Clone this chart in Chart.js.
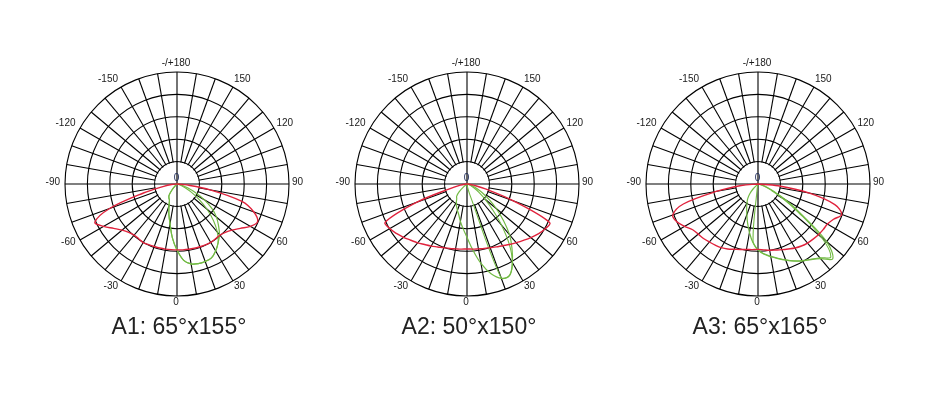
<!DOCTYPE html>
<html>
<head>
<meta charset="utf-8">
<script src="https://cdn.jsdelivr.net/npm/chart.js@4.4.1/dist/chart.umd.min.js"></script>
<style>
  html, body { margin:0; padding:0; background:#fff; }
  body { width:950px; height:406px; position:relative; overflow:hidden; font-family:"Liberation Sans", Arial, sans-serif; }
  .plot { position:absolute; top:54px; width:290px; height:260px; }
  .plot canvas { display:block; }
  .title { position:absolute; top:315px; width:290px; text-align:center; font-size:23px; line-height:23px; color:#222; }
</style>
</head>
<body>
<div class="plot" style="left:32px"><canvas id="c1" width="290" height="260"></canvas></div>
<div class="plot" style="left:322px"><canvas id="c2" width="290" height="260"></canvas></div>
<div class="plot" style="left:613px"><canvas id="c3" width="290" height="260"></canvas></div>
<div class="title" style="left:34px" id="t1"></div>
<div class="title" style="left:324px" id="t2"></div>
<div class="title" style="left:615px" id="t3"></div>

<script>
// gamma angle of each measured value, degrees (0 = straight down, +90 = right)
const gamma = [-90,-85,-80,-75,-70,-65,-60,-55,-50,-45,-40,-35,-30,-25,-20,-15,-10,-5,
               0,5,10,15,20,25,30,35,40,45,50,55,60,65,70,75,80,85,90];

// dial labels, every 30 deg clockwise from the top
const dialLabels = ['-/+180','150','120','90','60','30','0','-30','-60','-90','-120','-150'];

const titles = ['A1: 65°x155°', 'A2: 50°x150°', 'A3: 65°x165°'];

// intensities in ring units (5 rings), red = C0-C180, green = C90-C270 (two traces)
const a1Red    = [0,0.25,0.6,1.55,3.2,4.05,3.78,3.45,3.2,3.05,2.98,2.98,3.02,2.99,2.97,2.96,2.95,2.94,
                  2.94,2.95,2.96,2.97,2.98,3.0,3.01,2.99,2.98,3.05,3.2,3.45,3.78,3.97,3.65,3.0,1.5,0.35,0];
const a1Green  = [0,0,0,0,0,0,0,0,0,0.1,0.35,0.62,0.72,0.8,1.05,1.4,1.8,2.4,
                  2.95,3.42,3.62,3.68,3.68,3.64,3.45,3.2,2.95,2.62,2.3,1.9,1.4,0.9,0.5,0.25,0.1,0,0];
const a1Green2 = [0,0,0,0,0,0,0,0,0,0.1,0.35,0.62,0.72,0.8,1.05,1.4,1.8,2.4,
                  2.95,3.42,3.62,3.68,3.68,3.64,3.45,3.2,2.8,2.3,1.75,1.2,0.75,0.4,0.2,0.08,0,0,0];

const a2Red    = [0,0.1,0.3,0.75,2.4,4.03,3.98,3.85,3.7,3.55,3.43,3.3,3.2,3.1,3.03,2.98,2.94,2.92,
                  2.9,2.92,2.94,2.98,3.03,3.1,3.18,3.3,3.42,3.56,3.72,3.88,4.02,4.07,2.2,0.85,0.3,0.1,0];
const a2Green  = [0,0,0,0,0,0,0,0,0.2,0.5,0.72,0.8,0.95,1.1,1.25,1.42,1.7,2.0,
                  2.38,2.95,3.6,4.15,4.48,4.5,4.05,3.5,2.95,2.3,1.7,1.2,0.8,0.5,0.3,0.15,0.05,0,0];
const a2Green2 = [0,0,0,0,0,0,0,0,0,0,0,0,0,0,0,0,0,0,
                  0,0,0.15,0.5,4.45,4.5,4.05,3.3,2.4,1.6,1.05,0.65,0.4,0.2,0.1,0.04,0,0,0];

const a3Red    = [0,0.75,1.85,3.45,4.05,4.0,3.78,3.56,3.48,3.44,3.38,3.33,3.28,3.2,3.1,3.03,2.97,2.94,
                  2.92,2.95,3.0,3.05,3.12,3.2,3.3,3.38,3.44,3.48,3.52,3.55,3.58,3.72,3.98,3.55,2.3,0.9,0];
const a3Green  = [0,0,0,0,0,0,0,0,0,0.3,0.57,0.8,0.98,1.2,1.45,1.8,2.2,2.62,
                  2.95,3.15,3.3,3.45,3.62,3.8,3.97,4.12,4.35,4.72,4.0,2.4,1.45,0.75,0.4,0.18,0.06,0,0];
const a3Green2 = [0,0,0,0,0,0,0,0,0,0,0,0,0,0,0,0,0.2,2.55,
                  2.93,3.13,3.28,3.43,3.6,3.78,3.95,4.1,4.3,4.6,3.7,2.2,1.25,0.62,0.3,0.1,0,0,0];

const RED = '#e0223c';
const GREEN = '#72ba44';
const GRID = '#000';

// radar needs one slot per 5 deg round the dial, starting at the top going clockwise
const dialAngles = [];
for (let i = 0; i < 72; i++) dialAngles.push(180 - 5 * i);

function toDial(series){
  return dialAngles.map(a => {
    const k = gamma.indexOf(a);
    return k >= 0 ? series[k] : 0;
  });
}

// white hub with only the cross through it, plus the dial labels
const dialPlugin = {
  id: 'dial',
  beforeDatasetsDraw(chart){
    const s = chart.scales.r, ctx = chart.ctx;
    const r1 = s.getDistanceFromCenterForValue(1);
    ctx.save();
    ctx.fillStyle = '#fff';
    ctx.beginPath();
    ctx.arc(s.xCenter, s.yCenter, r1 - 0.7, 0, Math.PI * 2);
    ctx.fill();
    ctx.strokeStyle = GRID;
    ctx.lineWidth = 1.2;
    ctx.beginPath();
    [0, 18, 36, 54].forEach(i => {
      const p = s.getPointPosition(i, r1);
      ctx.moveTo(s.xCenter, s.yCenter);
      ctx.lineTo(p.x, p.y);
    });
    ctx.stroke();
    ctx.restore();
  },
  afterDatasetsDraw(chart){
    const s = chart.scales.r, ctx = chart.ctx;
    ctx.save();
    ctx.font = '10px "Liberation Sans", Arial, sans-serif';
    ctx.fillStyle = '#1a1a1a';
    ctx.textBaseline = 'middle';
    const cx = s.xCenter - 1, cy = s.yCenter - 1.5;
    const R = s.drawingArea + 4;
    dialLabels.forEach((txt, k) => {
      const p = s.getPointPosition(k * 6, 1);
      const ux = p.x - s.xCenter, uy = p.y - s.yCenter;
      ctx.textAlign = ux > 0.01 ? 'left' : (ux < -0.01 ? 'right' : 'center');
      ctx.fillText(txt, cx + ux * R, cy + uy * R + uy * 3.5);
    });
    // small "0" at the hub
    ctx.textAlign = 'center';
    ctx.fillStyle = '#1c2a5a';
    ctx.fillText('0', s.xCenter - 0.5, s.yCenter - 5.5);
    ctx.restore();
  }
};

function makeDial(id, red, green, green2){
  new Chart(document.getElementById(id), {
    type: 'radar',
    data: {
      labels: dialAngles.map(String),
      datasets: [
        { data: toDial(red),    borderColor: RED,   borderWidth: 1.4 },
        { data: toDial(green2), borderColor: GREEN, borderWidth: 1.1 },
        { data: toDial(green),  borderColor: GREEN, borderWidth: 1.2 }
      ]
    },
    options: {
      responsive: false,
      animation: false,
      layout: { padding: { left: 33, right: 33, top: 18, bottom: 18 } },
      elements: {
        line: { tension: 0.35, fill: false },
        point: { radius: 0, hoverRadius: 0 }
      },
      plugins: { legend: { display: false }, tooltip: { enabled: false } },
      scales: {
        r: {
          min: 0, max: 5,
          ticks: { stepSize: 1, display: false },
          grid: { circular: true, color: GRID, lineWidth: 1.1 },
          angleLines: { color: GRID, lineWidth: c => (c.index % 2 ? 0 : 1.1) },
          pointLabels: { display: false }
        }
      }
    },
    plugins: [dialPlugin]
  });
}

makeDial('c1', a1Red, a1Green, a1Green2);
makeDial('c2', a2Red, a2Green, a2Green2);
makeDial('c3', a3Red, a3Green, a3Green2);

document.getElementById('t1').textContent = titles[0];
document.getElementById('t2').textContent = titles[1];
document.getElementById('t3').textContent = titles[2];
</script>
</body>
</html>
